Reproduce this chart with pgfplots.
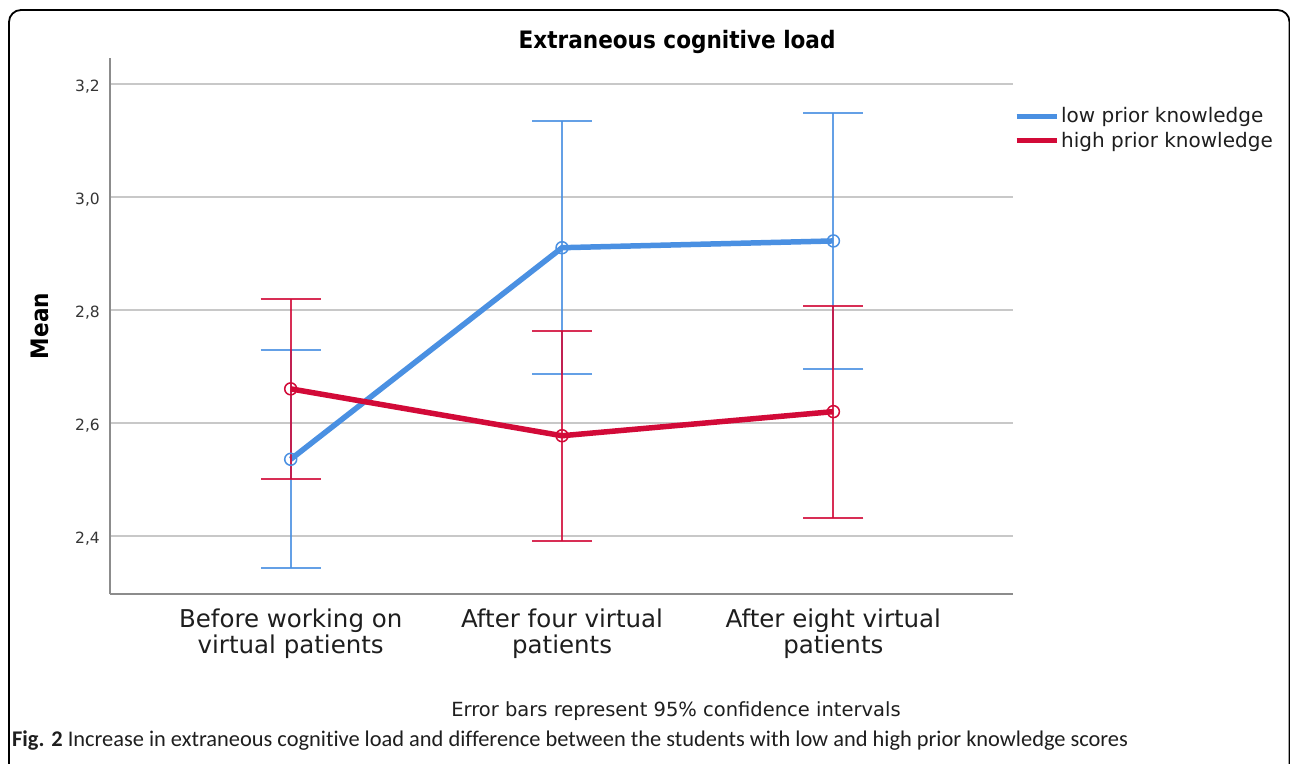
\documentclass[border=0pt]{standalone}
\usepackage{pgfplots}
\pgfplotsset{compat=1.18}
\usepackage{fontspec}
\setmainfont{DejaVu Sans}
\newfontfamily\condbold{DejaVu Sans Condensed Bold}
\newfontfamily\capfont{Carlito}[Ligatures={NoCommon,NoRare}]
\definecolor{blueC}{RGB}{74,144,226}
\definecolor{redC}{RGB}{210,10,56}
\definecolor{gridC}{RGB}{200,200,200}
\definecolor{axisC}{RGB}{140,140,140}
\definecolor{txtC}{RGB}{30,30,30}
\begin{document}
\begin{tikzpicture}
\useasboundingbox (0pt,0pt) rectangle (1290pt,763pt);
\fill[white] (0pt,0pt) rectangle (1290pt,763pt);
\draw[line width=1.8pt, rounded corners=12pt] (9pt,-30pt) -- (9pt,753pt) -- (1289.5pt,753pt) -- (1289.5pt,-30pt);
\begin{axis}[
  at={(110pt,169pt)}, anchor=south west,
  scale only axis, width=903pt, height=536pt,
  xmin=-0.666, xmax=2.662, ymin=2.2967, ymax=3.246,
  axis x line*=bottom, axis y line*=left,
  axis line style={draw=axisC, line width=2pt, -},
  xtick={0,1,2},
  xticklabels={{Before working on\\virtual patients},{After four virtual\\patients},{After eight virtual\\patients}},
  xticklabel style={font=\fontsize{24.5}{25.5}\selectfont, align=center, text=txtC, inner sep=0pt, yshift=-15pt},
  ytick={2.4,2.6,2.8,3.0,3.2},
  yticklabels={{2,4},{2,6},{2,8},{3,0},{3,2}},
  yticklabel style={font=\fontsize{15.5}{18}\selectfont, text=txtC!90, inner sep=0pt, xshift=-10pt, yshift=-3pt},
  major tick length=0pt,
  ymajorgrids, major grid style={gridC, line width=2pt},
  title={Extraneous cognitive load},
  title style={at={(axis description cs:0.628,1)}, anchor=base, yshift=3pt, font=\condbold\fontsize{24}{28}\selectfont, text=black},
  ylabel={Mean},
  ylabel style={at={(axis description cs:-0.0775,0.5)}, anchor=center, font=\condbold\fontsize{24}{28}\selectfont, text=black},
  legend style={at={(axis description cs:1.001,0.8685)}, anchor=west, draw=none, fill=none,
    font=\fontsize{20}{22}\selectfont, inner sep=0pt, row sep=4pt, text=txtC},
  legend cell align=left,
  legend image code/.code={\draw[#1, line width=5pt] (0pt,0pt) -- (40pt,0pt);},
]
\addplot[blueC, line width=5.5pt, mark=o, mark size=6pt,
  mark options={line width=1.5pt, fill=none},
  error bars/.cd, y dir=both, y explicit,
  error bar style={line width=2pt, blueC, opacity=0.85},
  error mark options={rotate=90, line width=2pt, mark size=30pt, blueC, opacity=0.85}]
coordinates {
 (0,2.5353) += (0,0.1937) -= (0,0.1933)
 (1,2.9100) += (0,0.2246) -= (0,0.2240)
 (2,2.9220) += (0,0.2273) -= (0,0.2267)
};
\addlegendentry{low prior knowledge}
\addplot[redC, line width=5.5pt, mark=o, mark size=6pt,
  mark options={line width=1.5pt, fill=none},
  error bars/.cd, y dir=both, y explicit,
  error bar style={line width=2pt, redC, opacity=0.85},
  error mark options={rotate=90, line width=2pt, mark size=30pt, redC, opacity=0.85}]
coordinates {
 (0,2.6600) += (0,0.1588) -= (0,0.1601)
 (1,2.5770) += (0,0.1856) -= (0,0.1864)
 (2,2.6197) += (0,0.1873) -= (0,0.1878)
};
\addlegendentry{high prior knowledge}
\end{axis}
\node[anchor=base, font=\fontsize{19.5}{22}\selectfont, text=txtC] at (676pt,47pt) {Error bars represent 95\% confidence intervals};
\node[anchor=base west, inner sep=0pt, font=\capfont\fontsize{22.4}{24}\selectfont, text=txtC] at (12pt,17pt) {\textbf{Fig. 2} Increase in extraneous cognitive load and difference between the students with low and high prior knowledge scores};
\end{tikzpicture}
\end{document}
